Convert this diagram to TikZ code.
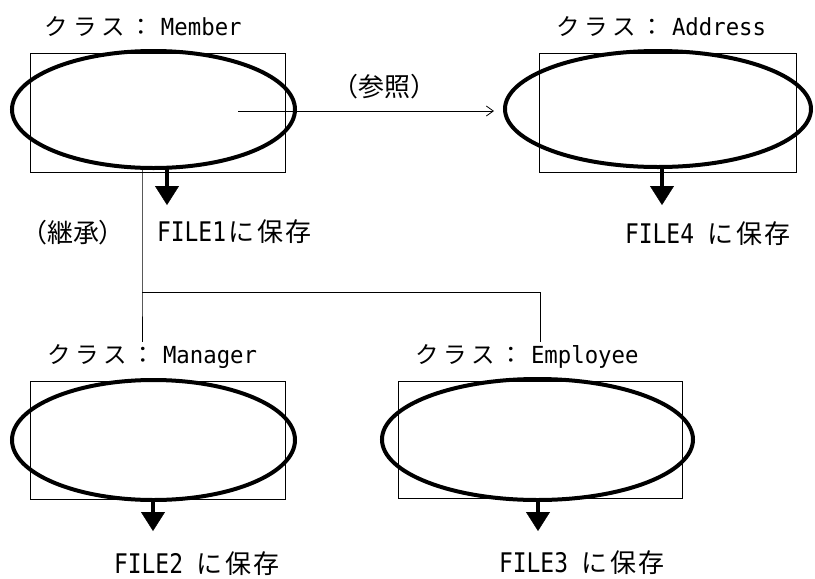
\documentclass[tikz,border=0pt]{standalone}
\usepackage{fontspec}
\setmainfont{Noto Sans CJK JP}
\newfontfamily\jpf{Noto Sans CJK JP}
\newfontfamily\latA[FakeStretch=0.95]{DejaVu Sans Mono}
\newfontfamily\latB[FakeStretch=0.85]{DejaVu Sans Mono}
\usetikzlibrary{shapes.geometric,arrows.meta}
\tikzset{
  boxr/.style={draw, line width=0.8pt, inner sep=0pt, outer sep=0pt},
  ell/.style={draw, ellipse, line width=4pt, inner sep=0pt, outer sep=0pt},
  storearrow/.style={line width=4pt, -{Triangle[width=24pt,length=19pt,line width=0.4pt]}},
  conn/.style={line width=0.8pt},
  refarrow/.style={line width=0.8pt, -{Straight Barb[length=7pt,width=10pt]}},
  lbl/.style={inner sep=0pt, outer sep=0pt, anchor=base west},
}
\newcommand{\clsname}[1]{{\fontsize{23.5}{23.5}\selectfont\jpf ク\kern5ptラ\kern5ptス\kern4pt：\kern8pt\latA #1}}
\newcommand{\filelbl}[2]{{\fontsize{27}{27}\selectfont\latB #1\jpf\fontsize{26}{26}\selectfont #2}}
\begin{document}
\begin{tikzpicture}[x=1pt,y=-1pt]
\useasboundingbox (0,0) rectangle (815,579);

% boxes
\node[boxr, minimum width=255pt, minimum height=119pt] (memberR) at (157.5,112.5) {};
\node[boxr, minimum width=257pt, minimum height=119pt] (addressR) at (667.5,112.5) {};
\node[boxr, minimum width=255pt, minimum height=118pt] (managerR) at (157.5,440) {};
\node[boxr, minimum width=284pt, minimum height=117pt] (employeeR) at (540,439.5) {};

% ellipses
\node[ell, minimum width=283pt, minimum height=117pt] (memberE) at (153.5,109.5) {};
\node[ell, minimum width=306pt, minimum height=116pt] (addressE) at (658,109) {};
\node[ell, minimum width=283pt, minimum height=120pt] (managerE) at (153.5,440) {};
\node[ell, minimum width=311pt, minimum height=121pt] (employeeE) at (537.5,439.5) {};

% class labels
\node[lbl] (lblMember) at (45,35) {\clsname{Member}};
\node[lbl] (lblAddress) at (556,35) {\clsname{Address}};
\node[lbl] (lblManager) at (47,363) {\clsname{Manager}};
\node[lbl] (lblEmployee) at (415,363) {\clsname{Employee}};

% file labels
\node[lbl] (fileOne) at (157,241) {\filelbl{FILE1}{\kern2ptに\kern3pt保\kern2pt存}};
\node[lbl] (fileFour) at (625,243) {\filelbl{FILE4 }{に\kern3pt保\kern2pt存}};
\node[lbl] (fileTwo) at (114,573) {\filelbl{FILE2 }{に\kern3pt保\kern2pt存}};
\node[lbl] (fileThree) at (499,572) {\filelbl{FILE3 }{に\kern3pt保\kern2pt存}};

% relation labels
\node[inner sep=0pt, anchor=base] (lblInherit) at (73,242) {\fontsize{26}{26}\selectfont\jpf （継承）};
\node[inner sep=0pt, anchor=base] (lblRef) at (384,96) {\fontsize{26}{26}\selectfont\jpf （参照）};

% storage arrows
\coordinate (aOne) at (167,205);
\coordinate (aFour) at (662,205);
\coordinate (aTwo) at (153,531);
\coordinate (aThree) at (538,531);
\draw[storearrow] (memberE.south -| aOne) -- (aOne);
\draw[storearrow] (addressE.south -| aFour) -- (aFour);
\draw[storearrow] (managerE.south -| aTwo) -- (aTwo);
\draw[storearrow] (employeeE.south -| aThree) -- (aThree);

% reference arrow
\coordinate (refStart) at (238,111);
\draw[refarrow, shorten >=11pt] (refStart) -- (refStart -| addressE.west);

% inheritance
\coordinate (jL) at (142,292);
\coordinate (jR) at (540,292);
\coordinate (mgrEnd) at (142,342);
\coordinate (empEnd) at (540,342);
\draw[conn] (memberE.south -| jL) -- (jL) -- (mgrEnd);
\draw[conn] (jL) -- (jR) -- (empEnd);
\end{tikzpicture}
\end{document}
